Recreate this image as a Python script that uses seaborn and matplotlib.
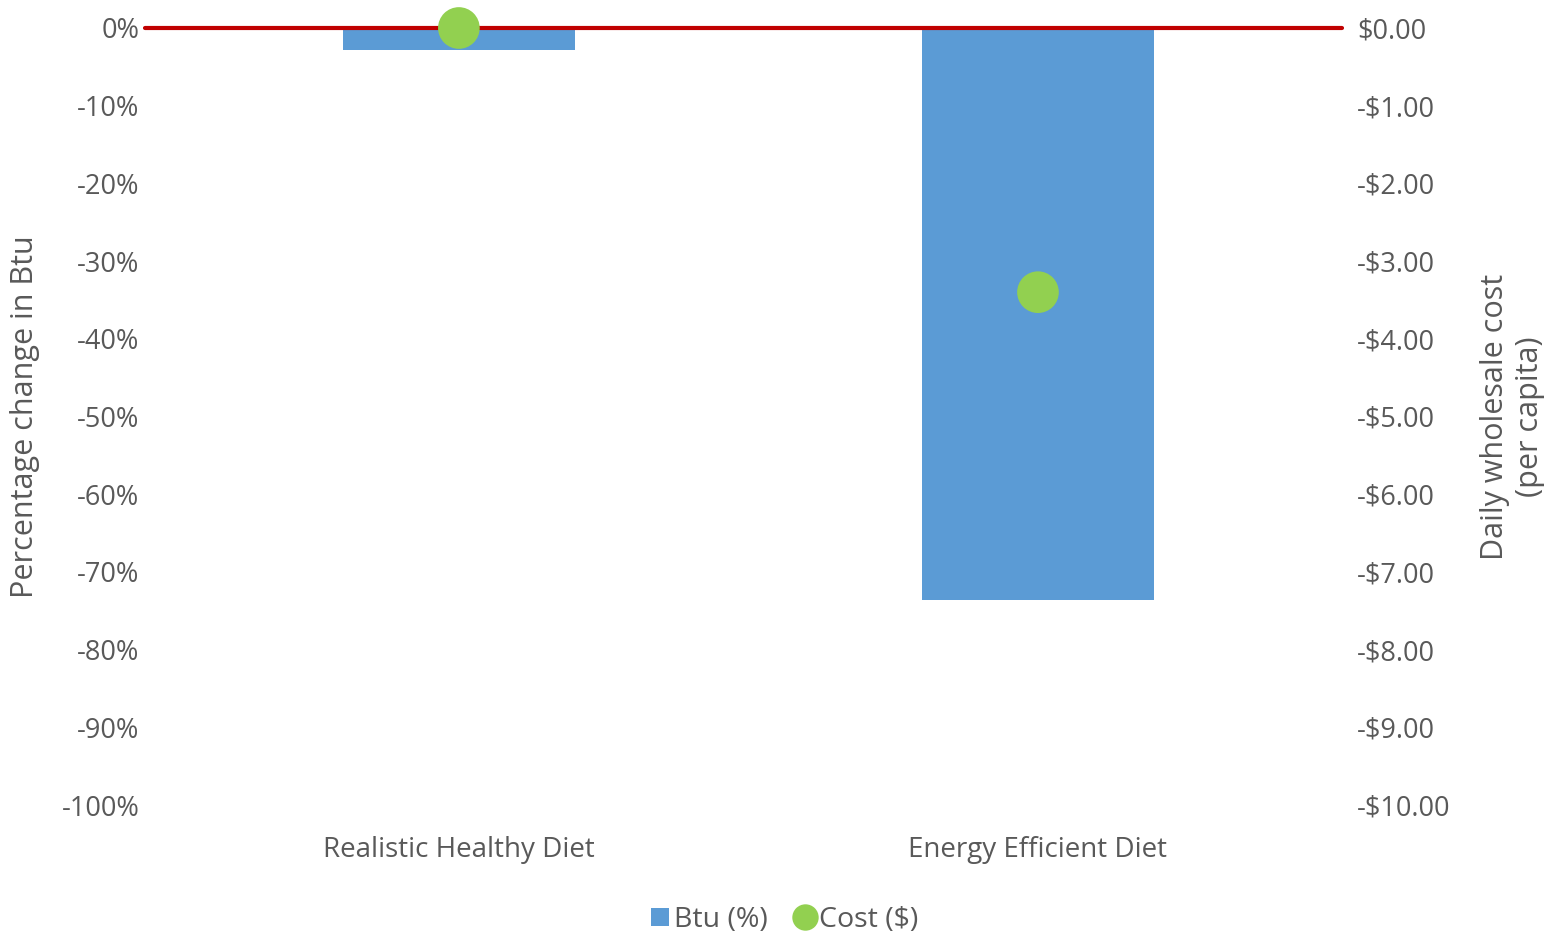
import matplotlib
matplotlib.use("Agg")
import matplotlib.pyplot as plt
import seaborn as sns
import pandas as pd
from matplotlib.lines import Line2D
from matplotlib.patches import Patch

# Diet scenarios and their changes relative to the baseline diet
categories = ["Realistic Healthy Diet", "Energy Efficient Diet"]
btu_change_pct = [-2.8, -73.6]
cost_change_usd = [0.0, -3.40]
baseline = 0.0

left_ticks = list(range(0, -101, -10))
left_tick_labels = [f"{t}%" for t in left_ticks]
right_ticks = list(range(0, -11, -1))
right_tick_labels = ["$0.00"] + [f"-${abs(t)}.00" for t in right_ticks[1:]]

BLUE = "#5B9BD5"
GREEN = "#92D050"
RED = "#C00000"
TEXT = "#595959"

sns.set_theme(style="white")
plt.rcParams["font.family"] = ["Open Sans", "DejaVu Sans"]

fig = plt.figure(figsize=(15.61, 9.35), dpi=100)
ax = fig.add_axes([145 / 1561, 1 - 805 / 935, (1342 - 145) / 1561, (805 - 28) / 935])

df = pd.DataFrame({"diet": categories, "btu": btu_change_pct, "cost": cost_change_usd})

sns.barplot(data=df, x="diet", y="btu", ax=ax, color=BLUE, width=0.40,
            saturation=1, edgecolor="none", zorder=2)
ax.set_xlim(-0.542, 1.525)
ax.set_ylim(-100, 0)
ax.set_yticks(left_ticks)
ax.set_yticklabels(left_tick_labels)
ax.set_xlabel("")
ax.set_ylabel("Percentage change in Btu", fontsize=22, color=TEXT)
ax.yaxis.set_label_coords(-0.0877, 0.5)
ax.tick_params(axis="y", length=0, labelsize=19.5, labelcolor=TEXT, pad=4)
ax.tick_params(axis="x", length=0, labelsize=20, labelcolor=TEXT, pad=22)
for s in ax.spines.values():
    s.set_visible(False)

ax2 = ax.twinx()
ax2.set_ylim(-10, 0)
ax2.axhline(baseline, color=RED, lw=3.0, zorder=3, clip_on=False)
sns.scatterplot(data=df, x="diet", y="cost", ax=ax2, color=GREEN, s=900,
                edgecolor="none", zorder=4, clip_on=False, legend=False)
ax2.set_xlim(-0.542, 1.525)
ax2.set_yticks(right_ticks)
ax2.set_yticklabels(right_tick_labels)
ax2.set_xlabel("")
ax2.set_ylabel("Daily wholesale cost\n(per capita)", fontsize=22, color=TEXT,
               linespacing=1.2)
ax2.yaxis.set_label_coords(1.1153, 0.5)
ax2.tick_params(axis="y", length=0, labelsize=19.5, labelcolor=TEXT, pad=11)
for s in ax2.spines.values():
    s.set_visible(False)

handles = [
    Patch(facecolor=BLUE, edgecolor="none", label="Btu (%)"),
    Line2D([], [], marker="o", linestyle="none", markersize=19,
           markerfacecolor=GREEN, markeredgecolor="none", label="Cost ($)"),
]
fig.legend(handles=handles, loc="center", bbox_to_anchor=(785 / 1561, 1 - 920 / 935),
           ncol=2, frameon=False, fontsize=20.5, labelcolor=TEXT,
           handlelength=0.6, handleheight=0.6, handletextpad=0.2, columnspacing=1.0)

fig.savefig("out.png", dpi=100)
